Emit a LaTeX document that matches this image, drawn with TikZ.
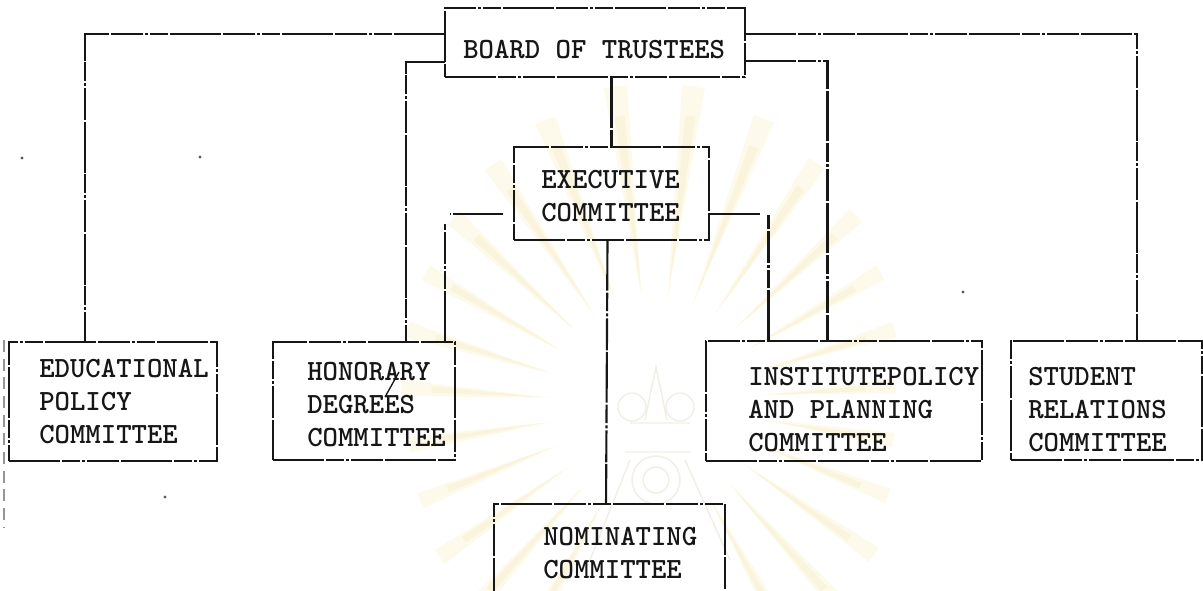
\documentclass[tikz,border=0pt]{standalone}
\usepackage{fontspec}
\usetikzlibrary{fit}
\definecolor{ink}{HTML}{161616}
\definecolor{rayout}{HTML}{FDFAEC}
\definecolor{rayin}{HTML}{FBF4DC}
\definecolor{crest}{HTML}{F0EEE5}
\tikzset{
  scanline/.style={draw=ink,line width=1.6pt,dash pattern=on 38pt off 1.4pt on 14pt off 1.7pt on 2.2pt off 1.5pt on 24pt off 1.2pt},
  conn/.style={scanline},
  box/.style={scanline,inner sep=0pt,outer sep=0pt,rectangle},
  label/.style={font=\ttfamily\bfseries\fontsize{22}{24.75}\selectfont,text=ink,align=left,inner sep=0pt,anchor=west},
  speck/.style={fill=ink!70,draw=none},
}
\begin{document}
\begin{tikzpicture}[x=0.75pt,y=-0.75pt]
\useasboundingbox (0,0) rectangle (1203,591);
\clip (0,0) rectangle (1203,591);
% watermark rays
\foreach \a/\r in {-176/255,-163/260,-150/265,-137/275,-124/290,-111/305,-97/320,-83/320,-69/305,-56/290,-43/275,-30/260,-17/250,-4/240,9/240,22/250,35/265,48/280,61/300,119/300,132/280,145/265,158/255,171/250}{
  \fill[rayout] (656,404) ++(\a-0.8:105) -- ++(\a-3.1:\r-105) arc[start angle=\a-3.1,end angle=\a+3.1,radius=\r-105] -- cycle;
  \fill[rayin] (656,404) ++(\a-0.5:115) -- ++(\a-1.7:\r-145) arc[start angle=\a-1.7,end angle=\a+1.7,radius=\r-145] -- cycle;
}
% crest
\draw[crest,line width=1.1pt] (645,420) -- (656,367) -- (667,420)
  (630,423) -- (690,423) (625,452) -- (690,452)
  (630,460) -- (590,560) (685,460) -- (730,560);
\draw[crest,line width=1.1pt] (656,480) circle[radius=24] (656,480) circle[radius=13];
\draw[crest,line width=1.1pt] (632,407) circle[radius=14] (680,407) circle[radius=14];
% boxes
\node[box,fit={(445,8) (745,77)}] (boardbox) {};
\node[box,fit={(514,147) (709,240)}] (execbox) {};
\node[box,fit={(9,342) (217,461)}] (edubox) {};
\node[box,fit={(273,342) (455,460)}] (honbox) {};
\node[box,fit={(706,341) (982,461)}] (instbox) {};
\node[box,fit={(1011,341) (1202,460)}] (studbox) {};
\node[box,fit={(494,504) (725,660)}] (nombox) {};
% texts
\node[label] (board) at (463,50) {BOARD OF TRUSTEES};
\node[label] (exec) at (541,196) {EXECUTIVE\\COMMITTEE};
\node[label] (edu) at (39,402) {EDUCATIONAL\\POLICY\\COMMITTEE};
\node[label] (hon) at (307,405) {HONORARY\\DEGREES\\COMMITTEE};
\node[label] (inst) at (748,410) {INSTITUTEPOLICY\\AND PLANNING\\COMMITTEE};
\node[label] (stud) at (1028,410) {STUDENT\\RELATIONS\\COMMITTEE};
\node[label] (nom) at (543,553) {NOMINATING\\COMMITTEE};
% connectors
\path[conn] ([yshift=6.4pt]boardbox.west) -| ([xshift=-21pt]edubox.north);
\path[conn] ([yshift=-14.6pt]boardbox.west) -| ([xshift=31.5pt]honbox.north);
\path[conn] ([yshift=6.4pt]boardbox.east) -| ([xshift=22.9pt]studbox.north);
\path[conn] ([yshift=-13.9pt]boardbox.east) -| ([xshift=-12.4pt]instbox.north);
\path[conn] (boardbox.south -| execbox.north) -- (execbox.north);
\path[conn] ([xshift=-8pt,yshift=-15.4pt]execbox.west) -- ++(-40pt,0);
\path[conn] ([xshift=60.75pt]honbox.north) -- ++(0,88.5pt);
\path[conn] ([yshift=-15.4pt]execbox.east) -- ++(39pt,0);
\path[conn] ([xshift=-56.6pt]instbox.north) -- ++(0,94.5pt);
\path[conn] ([xshift=-3pt]execbox.south) -- ([xshift=-2.6pt]nombox.north);
% pen stroke and specks
\draw[ink,line width=1pt] (399,372) -- (385,397);
\foreach \p in {(22,158),(200,157),(165,497),(963,292)}{\fill[speck] \p circle[radius=1.6];}
\draw[ink!45,line width=0.8pt,dash pattern=on 9pt off 5pt] (4,340) -- (4,527);
\end{tikzpicture}
\end{document}
